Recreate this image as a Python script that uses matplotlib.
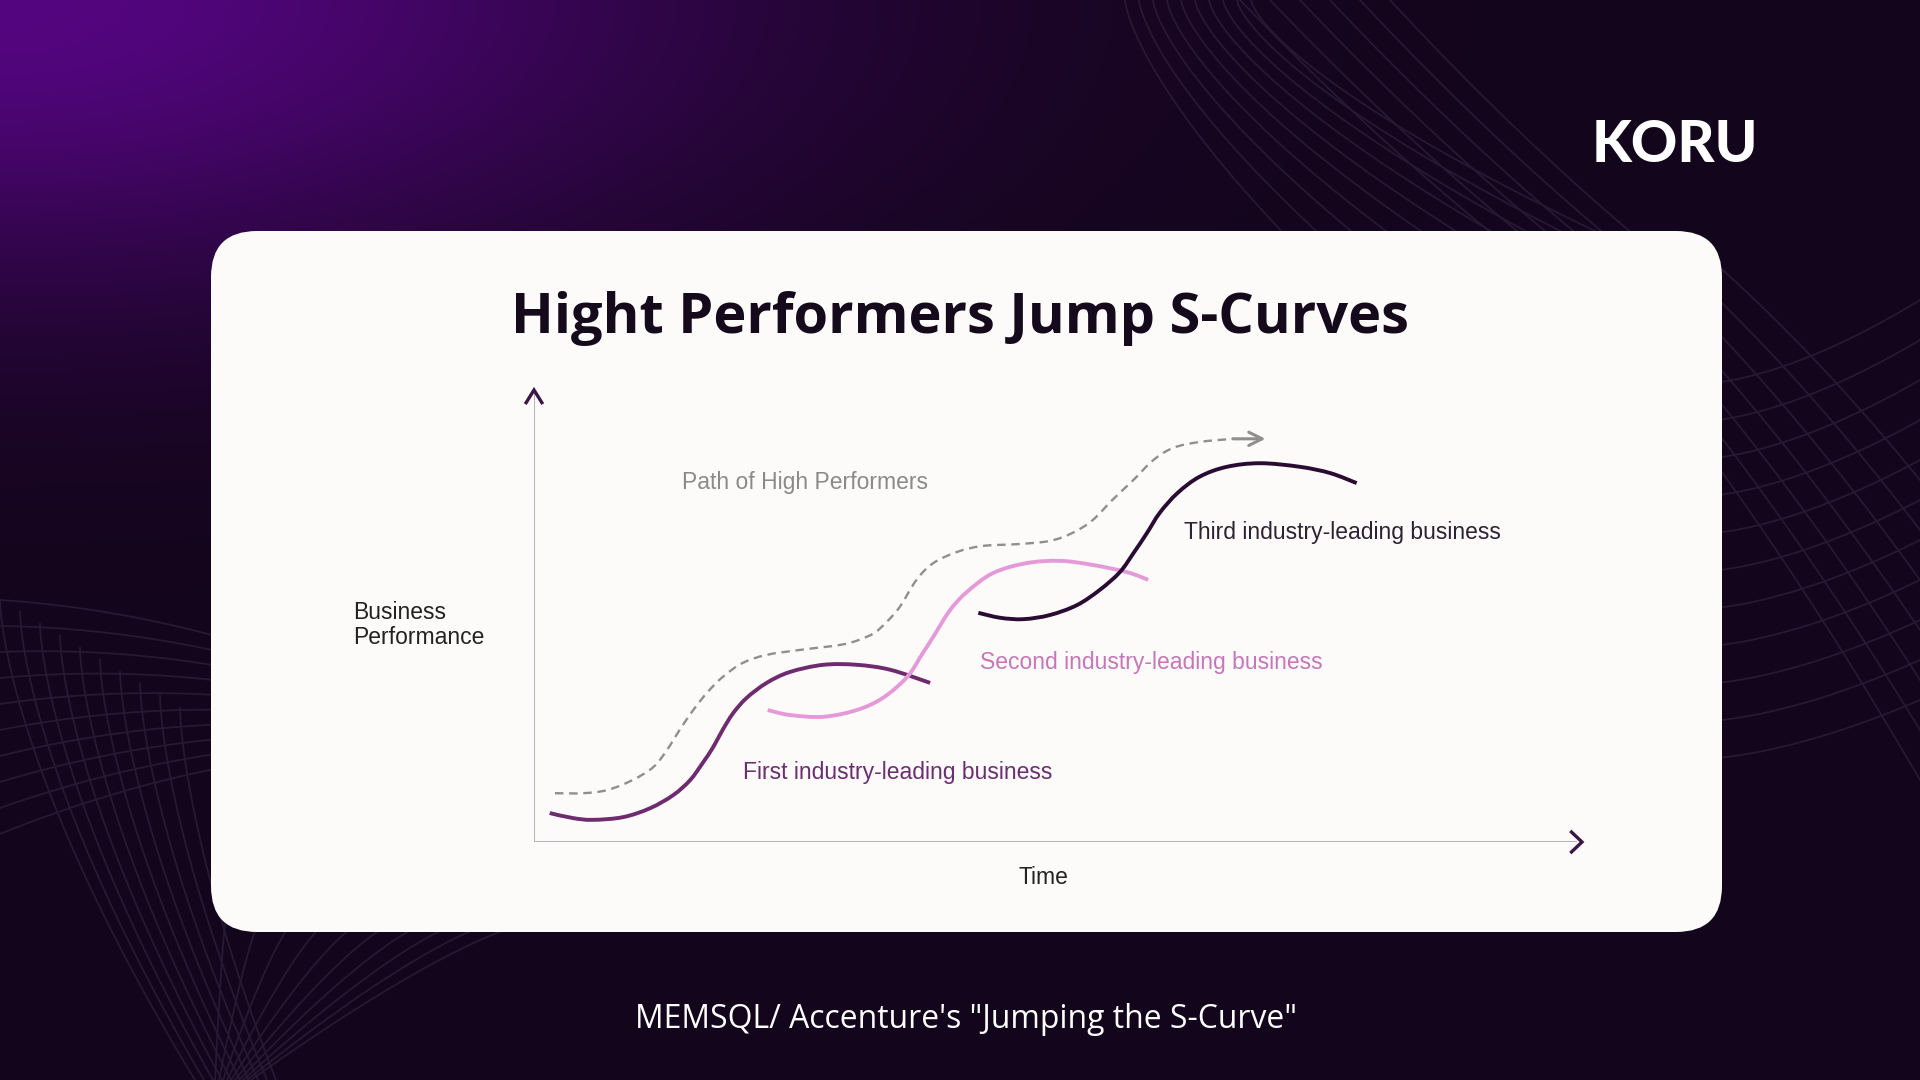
import numpy as np
import matplotlib
matplotlib.use("Agg")
import matplotlib.pyplot as plt
from matplotlib.patches import FancyBboxPatch, PathPatch
from matplotlib.path import Path

# ---- data (time 0-10, performance 0-10) ----
first_t = [0.15, 0.37, 0.56, 0.85, 1.11, 1.33, 1.49, 1.61, 1.71, 1.80, 1.90, 2.03, 2.22, 2.44, 2.76, 3.08, 3.40, 3.78]
first_p = [0.64, 0.53, 0.49, 0.55, 0.75, 1.04, 1.37, 1.75, 2.10, 2.48, 2.85, 3.19, 3.52, 3.76, 3.92, 3.92, 3.81, 3.52]

second_t = [2.23, 2.44, 2.76, 3.08, 3.33, 3.56, 3.71, 3.81, 3.97, 4.13, 4.38, 4.70, 5.02, 5.33, 5.66, 5.86]
second_p = [2.92, 2.81, 2.77, 2.92, 3.19, 3.65, 4.18, 4.54, 5.13, 5.53, 5.95, 6.17, 6.22, 6.13, 5.97, 5.80]

third_t = [4.24, 4.45, 4.67, 4.92, 5.18, 5.40, 5.59, 5.72, 5.85, 5.97, 6.14, 6.35, 6.61, 6.93, 7.31, 7.60, 7.85]
third_p = [5.07, 4.96, 4.93, 5.02, 5.24, 5.58, 5.97, 6.39, 6.84, 7.28, 7.72, 8.08, 8.30, 8.38, 8.30, 8.16, 7.94]

path_t = [0.20, 0.47, 0.70, 0.94, 1.14, 1.27, 1.39, 1.52, 1.65, 1.80, 1.99, 2.22, 2.54, 2.92, 3.10, 3.25, 3.37,
          3.49, 3.65, 3.81, 4.04, 4.28, 4.61, 4.92, 5.14, 5.33, 5.52, 5.72, 5.91, 6.10, 6.35, 6.67, 6.98]
path_p = [1.08, 1.08, 1.15, 1.37, 1.66, 2.04, 2.48, 2.92, 3.30, 3.65, 3.96, 4.14, 4.25, 4.36, 4.47, 4.63, 4.88,
          5.20, 5.80, 6.17, 6.42, 6.55, 6.59, 6.66, 6.84, 7.12, 7.57, 8.01, 8.45, 8.72, 8.85, 8.92, 8.92]

title = "Hight Performers Jump S-Curves"
caption = "MEMSQL/ Accenture's \"Jumping the S-Curve\""
labels = ["Path of High Performers", "First industry-leading business",
          "Second industry-leading business", "Third industry-leading business"]

W, H = 1920, 1080
fig = plt.figure(figsize=(19.2, 10.8), dpi=100)

# ---- background ----
bg = fig.add_axes([0, 0, 1, 1])
bg.set_xlim(0, W)
bg.set_ylim(H, 0)
bg.axis("off")

xx, yy = np.meshgrid(np.arange(0, W, 4), np.arange(0, H, 4))
glow = np.exp(-(xx / 720.0) ** 2 - (yy / 290.0) ** 2)
base = np.array([19, 5, 27]) / 255
top = np.array([84, 6, 128]) / 255
img = base + glow[..., None] * (top - base)
bg.imshow(img, extent=(0, W, H, 0), zorder=0, aspect="auto")

mesh = "#281932"
s = np.linspace(0, 1, 60)
# right side mesh
for i in range(11):
    y0, y1 = 384 + i * 37.5, 300 + i * 40
    bg.plot(1700 + 220 * s, y0 + (y1 - y0) * s ** 1.6, color=mesh, lw=1.3, zorder=1)
for i in range(7):
    y0 = 250 + i * 32
    bg.plot(1700 + 220 * s, y0 + (230 + i * 18) * s - 40 * s * (1 - s), color=mesh, lw=1.3, zorder=1)
# top mesh
for i in range(10):
    x0, x1 = 1125 + i * 14, 1290 + i * 36
    bg.plot(x0 + (x1 - x0) * s ** 1.4, 240 * s, color=mesh, lw=1.3, zorder=1)
for i in range(6):
    x0, x1 = 1240 + i * 30, 1500 + i * 28
    bg.plot(x0 + (x1 - x0) * s, 240 * s + 30 * s * (1 - s), color=mesh, lw=1.3, zorder=1)
# left mesh
for i in range(10):
    y0, y1 = 600 + i * 26, 640 + i * 14
    bg.plot(230 * s, y0 + (y1 - y0) * s - 25 * s * (1 - s), color=mesh, lw=1.3, zorder=1)
for i in range(10):
    x0, y0 = i * 20, 600 + i * 12
    x1 = 195 + i * 9
    bg.plot(x0 + (x1 - x0) * s ** 1.5, y0 + (1080 - y0) * s, color=mesh, lw=1.3, zorder=1)
for i in range(10):
    x0 = 225 + i * 33
    bg.plot(x0 + (215 + i * 4 - x0) * s ** 0.8, 925 + 155 * s, color=mesh, lw=1.3, zorder=1)

# ---- card ----
card = FancyBboxPatch((211, 231), 1511, 701, boxstyle="round,pad=0,rounding_size=46",
                      facecolor="#fcfbfa", edgecolor="none", zorder=2)
bg.add_patch(card)

renderer = fig.canvas.get_renderer()


def fit_text(x, y, txt, width, **kw):
    t = bg.text(x, y, txt, ha="center", va="center", fontsize=30, **kw)
    w = t.get_window_extent(renderer).width
    t.set_fontsize(30 * width / w)
    return t


fit_text(960, 319, title, 899, family="Open Sans", fontweight="bold", color="#150a1c", zorder=3)
fit_text(966, 1019, caption, 661, family="Open Sans", color="#ffffff", zorder=3)
fit_text(1675, 145, "KORU", 166, family="Lato", fontweight="black", color="#ffffff", zorder=3)

lab_kw = dict(family="Liberation Sans", fontsize=16.5, zorder=3)
bg.text(682, 482, labels[0], color="#8a8a8a", va="center", **lab_kw)
bg.text(743, 773, labels[1], color="#6b2e70", va="center", **lab_kw)
bg.text(980, 663, labels[2], color="#c577b8", va="center", **lab_kw)
bg.text(1184, 533, labels[3], color="#2c2233", va="center", **lab_kw)
bg.text(353, 625, "Business\nPerformance", color="#222222", va="center", linespacing=1.15, **lab_kw)
bg.text(1043, 877, "Time", color="#222222", va="center", ha="center", **lab_kw)

# ---- chart ----
ax = fig.add_axes([534 / W, (H - 842) / H, 1048 / W, 452 / H])
ax.set_xlim(0, 10)
ax.set_ylim(0, 10)
ax.axis("off")
ax.patch.set_alpha(0)


def smooth_path(xs, ys):
    # Catmull-Rom through the points, drawn as cubic Bezier segments
    pts = np.column_stack([xs, ys])
    verts = [pts[0]]
    codes = [Path.MOVETO]
    for i in range(len(pts) - 1):
        p0 = pts[max(i - 1, 0)]
        p1, p2 = pts[i], pts[i + 1]
        p3 = pts[min(i + 2, len(pts) - 1)]
        verts += [p1 + (p2 - p0) / 6, p2 - (p3 - p1) / 6, p2]
        codes += [Path.CURVE4] * 3
    return Path(verts, codes)


def curve(xs, ys, **kw):
    ax.add_patch(PathPatch(smooth_path(xs, ys), facecolor="none", capstyle="butt", **kw))


ax.plot([0, 0], [0, 9.95], color="#b8b2c0", lw=1.5, solid_capstyle="butt")
ax.plot([0, 9.95], [0, 0], color="#b8b2c0", lw=1.5, solid_capstyle="butt")
ax.plot([-0.075, 0, 0.075], [9.72, 10, 9.72], color="#3a1545", lw=2.4,
        solid_joinstyle="miter", clip_on=False)
ax.plot([9.9, 10, 9.9], [0.22, 0, -0.22], color="#3a1545", lw=2.4,
        solid_joinstyle="miter", clip_on=False)

curve(path_t[:-1], path_p[:-1], edgecolor="#8f8f8f", lw=1.7, linestyle=(0, (3.6, 2.4)))
ax.annotate("", xy=(path_t[-1], path_p[-1]), xytext=(path_t[-2], path_p[-2]),
            arrowprops=dict(arrowstyle="->", color="#8f8f8f", lw=2.2, mutation_scale=24,
                            shrinkA=0, shrinkB=0))
curve(first_t, first_p, edgecolor="#6e2b6e", lw=2.8)
curve(second_t, second_p, edgecolor="#e59ad8", lw=2.8)
curve(third_t, third_p, edgecolor="#2a0c33", lw=2.8)

fig.savefig("out.png", dpi=100)
